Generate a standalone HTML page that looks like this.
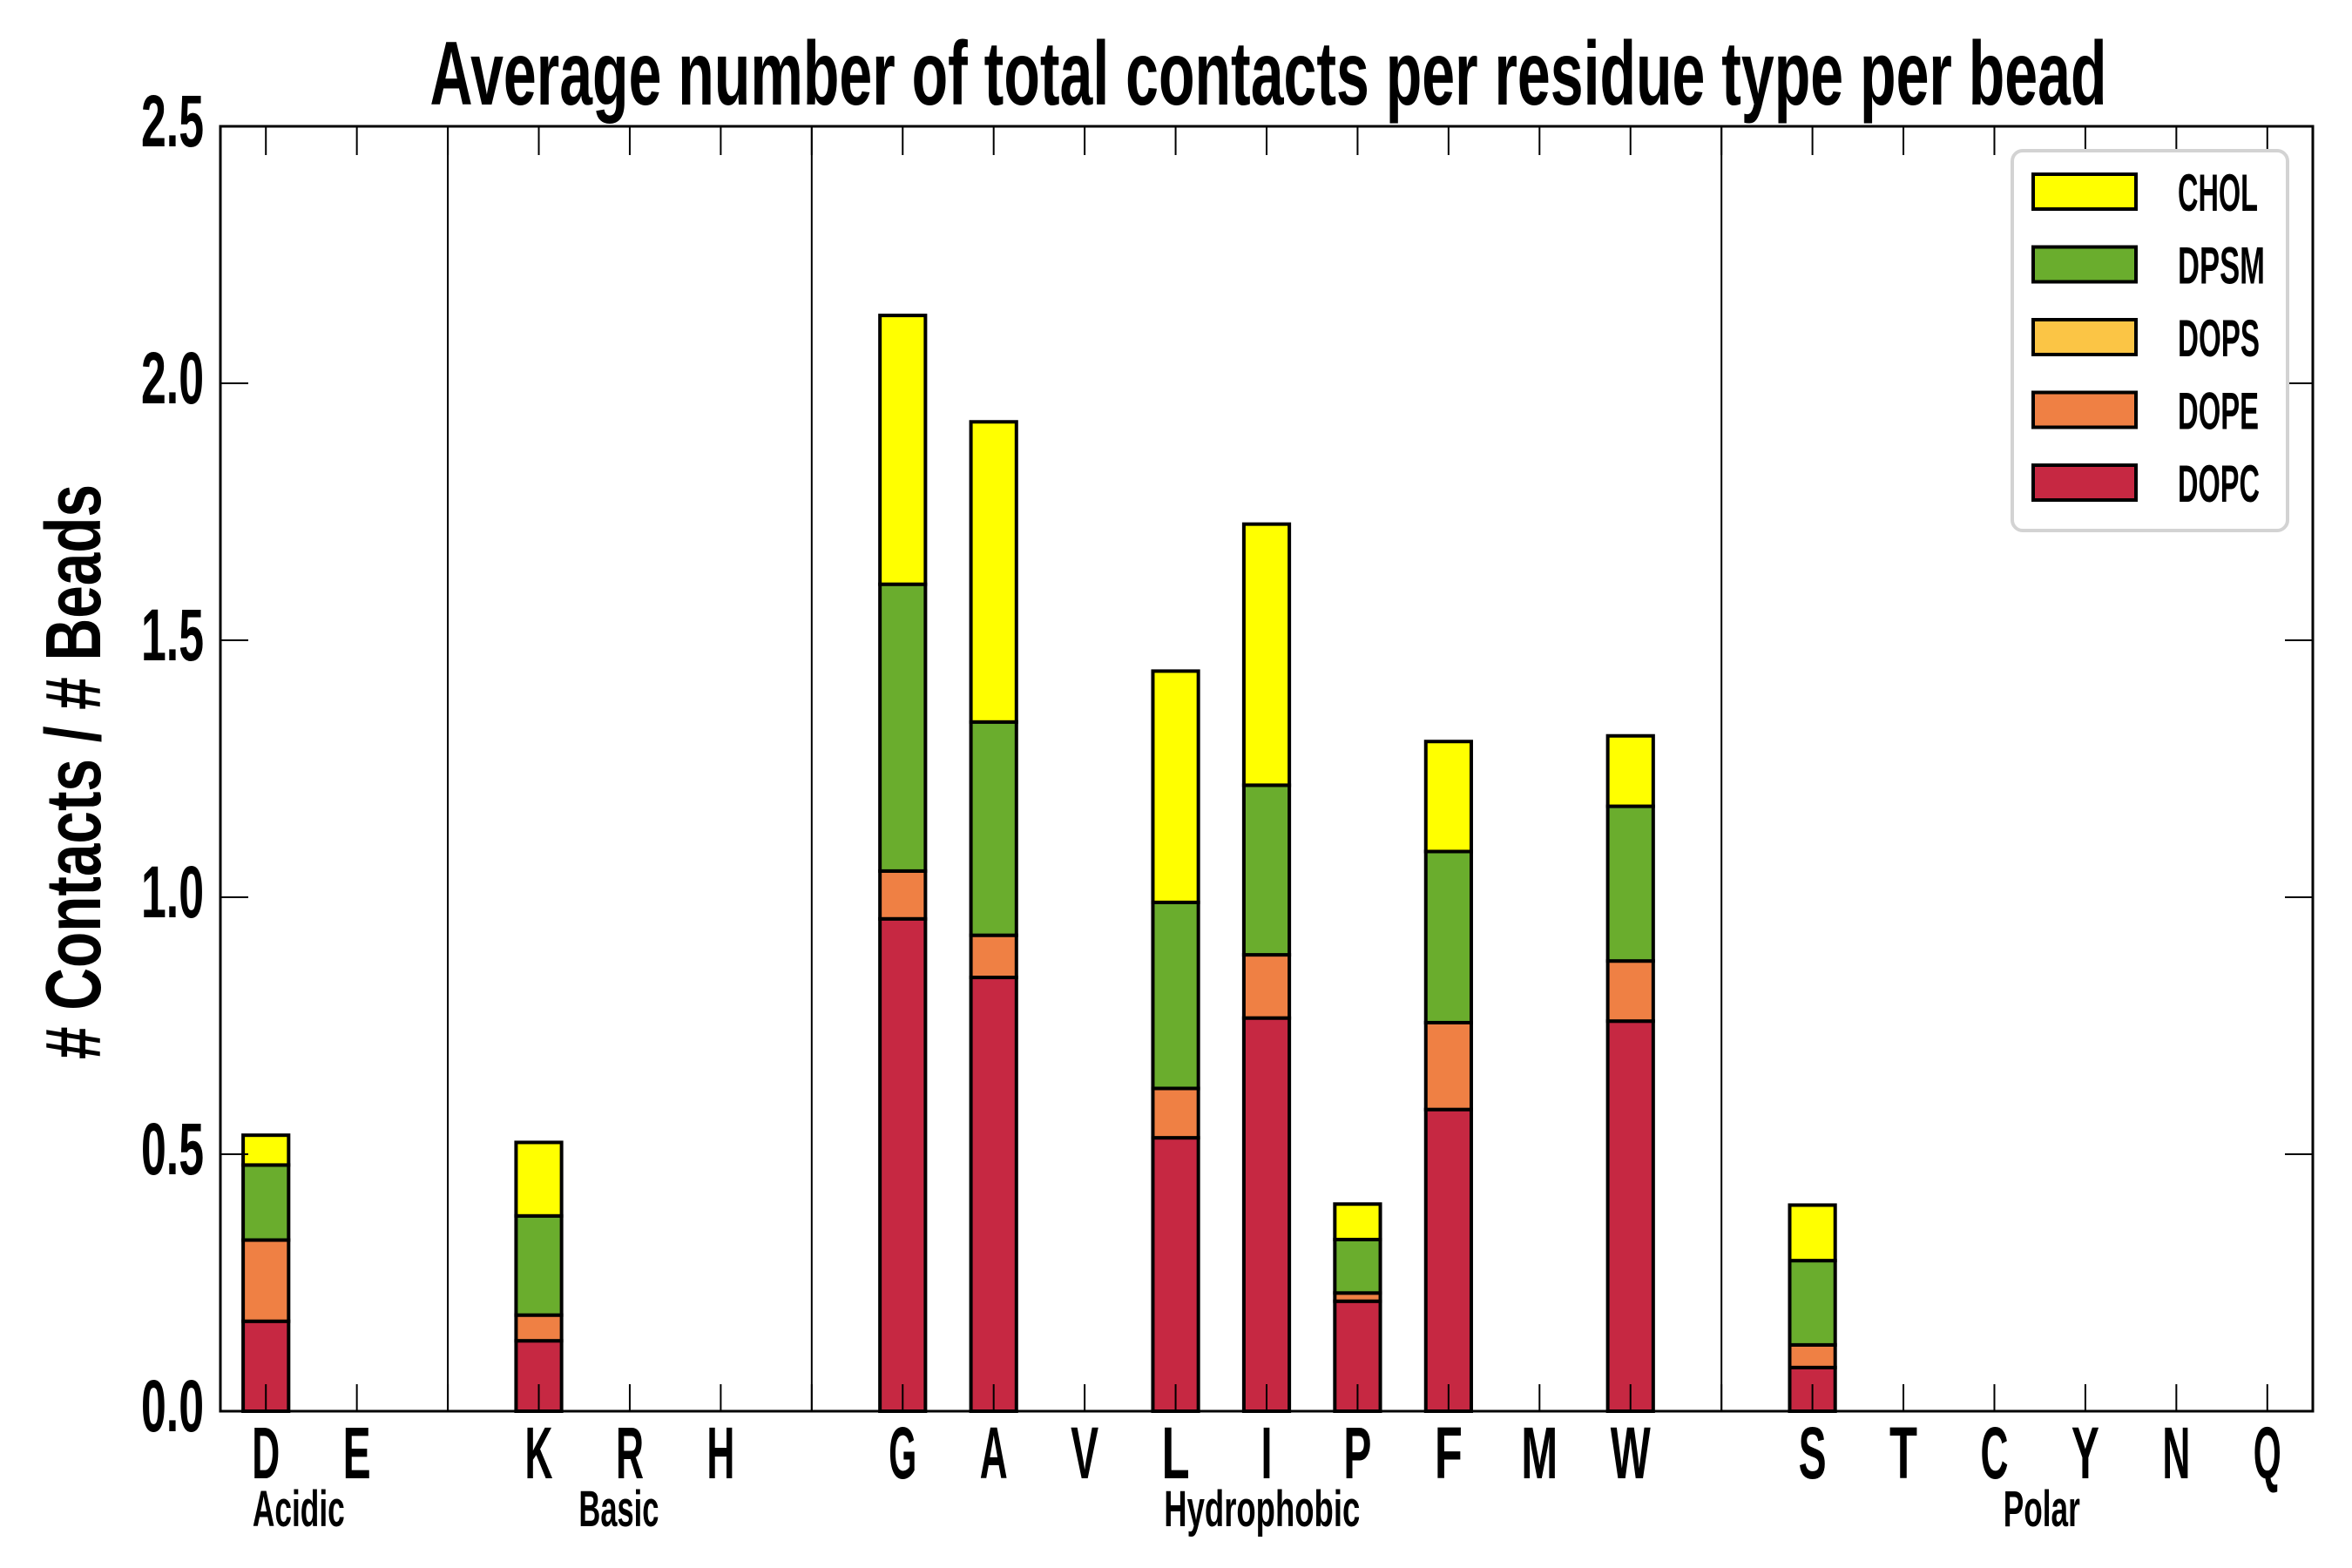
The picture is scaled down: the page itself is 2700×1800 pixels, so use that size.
<!DOCTYPE html>
<html><head><meta charset="utf-8"><style>
html,body{margin:0;padding:0;background:#fff;}
svg{display:block;}
text{font-family:"Liberation Sans Narrow","Liberation Sans",sans-serif;font-weight:bold;fill:#000;}
</style></head><body>
<svg id="chart" width="2700" height="1800" viewBox="0 0 2700 1800" xmlns="http://www.w3.org/2000/svg">
<rect x="0" y="0" width="2700" height="1800" fill="#fff"/>
<text x="1456" y="120" text-anchor="middle" font-size="104" textLength="1925" lengthAdjust="spacingAndGlyphs">Average number of total contacts per residue type per bead</text>
<text transform="translate(115,886) rotate(-90)" text-anchor="middle" font-size="90" textLength="660" lengthAdjust="spacingAndGlyphs"># Contacts / # Beads</text>
<g id="plot"></g>
<g id="legend"></g>
</svg>
<script>
const categories = ["D","E","","K","R","H","","G","A","V","L","I","P","F","M","W","","S","T","C","Y","N","Q"];
const seriesNames = ["DOPC","DOPE","DOPS","DPSM","CHOL"];
const dopc = [0.175,0,0,0.137,0,0,0,0.958,0.844,0,0.532,0.765,0.214,0.587,0,0.759,0,0.085,0,0,0,0,0];
const dope = [0.158,0,0,0.050,0,0,0,0.093,0.082,0,0.096,0.123,0.016,0.169,0,0.117,0,0.044,0,0,0,0,0];
const dops = [0,0,0,0,0,0,0,0,0,0,0,0,0,0,0,0,0,0,0,0,0,0,0];
const dpsm = [0.146,0,0,0.193,0,0,0,0.558,0.415,0,0.362,0.330,0.104,0.333,0,0.301,0,0.164,0,0,0,0,0];
const chol = [0.058,0,0,0.143,0,0,0,0.523,0.584,0,0.450,0.508,0.069,0.214,0,0.137,0,0.108,0,0,0,0,0];
const separators = [2,6,16];
const groupNames = ["Acidic","Basic","Hydrophobic","Polar"];
const groupCenters = [0.36,3.88,10.95,19.52];
const yTicks = [0,0.5,1.0,1.5,2.0,2.5];
const yTickLabels = ["0.0","0.5","1.0","1.5","2.0","2.5"];
const colors = {DOPC:"#c62842",DOPE:"#ef8044",DOPS:"#fbc545",DPSM:"#6aad2d",CHOL:"#ffff00"};

const L=253,R=2655,T=145,B=1620;
const xMin=-0.5,xMax=22.5,yMin=0,yMax=2.5;
const xs=v=>L+(v-xMin)/(xMax-xMin)*(R-L);
const ys=v=>B-(v-yMin)/(yMax-yMin)*(B-T);
const NS="http://www.w3.org/2000/svg";
const plot=document.getElementById('plot');
function mk(tag,attrs,parent){const e=document.createElementNS(NS,tag);for(const k in attrs)e.setAttribute(k,attrs[k]);(parent||plot).appendChild(e);return e;}

separators.forEach(s=>{
  const l=mk('line',{x1:xs(s),x2:xs(s),y1:T,y2:B,stroke:'#000','stroke-width':2});
  
  
});

const data=[dopc,dope,dops,dpsm,chol];
const bw=(R-L)/(xMax-xMin)*0.5;
categories.forEach((c,i)=>{
  let base=0;
  data.forEach((arr,si)=>{
    const v=arr[i];
    const y0=ys(base),y1=ys(base+v);
    const r=mk('rect',{x:xs(i)-bw/2,y:y1,width:bw,height:Math.max(0,y0-y1),fill:colors[seriesNames[si]],stroke:v>0?'#000':'#888','stroke-width':v>0?4:2});
    
    
    base+=v;
  });
});

const letterW={I:13,M:42,W:46};
categories.forEach((c,i)=>{
  const t1=mk('line',{x1:xs(i),x2:xs(i),y1:T,y2:T+33,stroke:'#000','stroke-width':2});
  
  
  const t2=mk('line',{x1:xs(i),x2:xs(i),y1:B,y2:B-31,stroke:'#000','stroke-width':2});
  
  
  if(c){
    const w=letterW[c]||32;
    const tx=mk('text',{x:xs(i),y:1697,'text-anchor':'middle','font-size':84,textLength:w,lengthAdjust:'spacingAndGlyphs'});
    tx.textContent=c;
    
    
  }
});
const gw={Acidic:106,Basic:92,Hydrophobic:225,Polar:88};
groupNames.forEach((g,i)=>{
  const tx=mk('text',{x:xs(groupCenters[i]),y:1752,'text-anchor':'middle','font-size':58,textLength:gw[g],lengthAdjust:'spacingAndGlyphs'});
  tx.textContent=g;
  
  
});
yTicks.forEach((v,i)=>{
  const a=mk('line',{x1:L,x2:L+32,y1:ys(v),y2:ys(v),stroke:'#000','stroke-width':2});
  
  
  const b=mk('line',{x1:R,x2:R-32,y1:ys(v),y2:ys(v),stroke:'#000','stroke-width':2});
  
  
  const tx=mk('text',{x:234,y:ys(v)+23,'text-anchor':'end','font-size':84,textLength:72,lengthAdjust:'spacingAndGlyphs'});
  tx.textContent=yTickLabels[i];
  
  
});
const frame=mk('rect',{x:L,y:T,width:R-L,height:B-T,fill:'none',stroke:'#000','stroke-width':3});



const leg=document.getElementById('legend');
const lb=mk('rect',{x:2310,y:173,width:316,height:436,rx:12,fill:'#fff',stroke:'#d3d3d3','stroke-width':4},leg);


const legOrder=["CHOL","DPSM","DOPS","DOPE","DOPC"];
const legW={CHOL:92,DPSM:100,DOPS:94,DOPE:93,DOPC:94};
legOrder.forEach((n,i)=>{
  const cy=220+i*83.5;
  const p=mk('rect',{x:2334,y:cy-20,width:118,height:40,fill:colors[n],stroke:'#000','stroke-width':4},leg);
  
  
  const t=mk('text',{x:2500,y:cy+22,'font-size':60,textLength:legW[n],lengthAdjust:'spacingAndGlyphs'},leg);
  t.textContent=n;
  
  
});
</script>
</body></html>
